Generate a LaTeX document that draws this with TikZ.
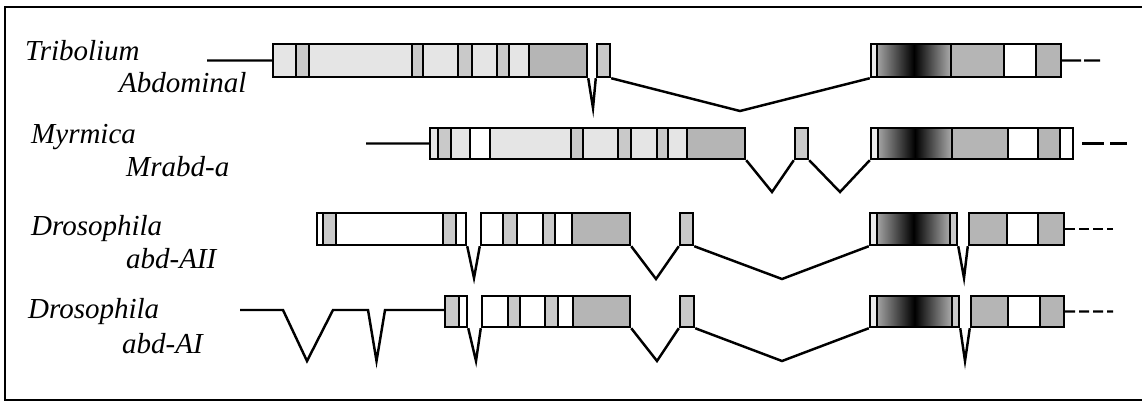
\documentclass[tikz,border=0pt]{standalone}
\usepackage{fontspec}
\setmainfont{Liberation Serif}
\usetikzlibrary{fit}
\colorlet{pl}{gray!15}
\colorlet{lt}{gray!20}
\colorlet{sp}{gray!42}
\colorlet{dk}{gray!58}
\colorlet{wh}{white}

\begin{document}
\begin{tikzpicture}[x=0.02cm, y=-0.02cm, line width=1.4pt,
  box/.style={draw, inner sep=0pt},
  lbl/.style={anchor=base west, inner sep=0pt, font=\itshape\fontsize{16.5}{19}\selectfont},
  band/.style={left color=gray!72, right color=gray!65, middle color=black},
  tail/.style={dash pattern=on 0.2cm off 0.08cm}]
\useasboundingbox (0,0) rectangle (1142,403);
\draw[line width=1.2pt] (1142,7) -- (5,7) -- (5,400) -- (1142,400);

% labels
\node[lbl] (tribo) at (24,60) {Tribolium};
\node[lbl] (abdom) at (118,92) {Abdominal};
\node[lbl] (myrm) at (30,143) {Myrmica};
\node[lbl] (mrabd) at (125,176) {Mrabd-a};
\node[lbl] (dros2) at (30,235) {Drosophila};
\node[lbl] (abd2) at (125,268) {abd-AII};
\node[lbl] (dros1) at (27,318) {Drosophila};
\node[lbl] (abd1) at (121,353) {abd-AI};

% Tribolium
\foreach \a/\b/\c in {273/296/lt, 296/309/sp, 309/412/lt, 412/423/sp, 423/458/lt, 458/472/sp,
  472/497/lt, 497/509/sp, 509/529/lt, 529/587/dk, 597/610/sp, 871/877/pl, 951/1004/dk,
  1004/1036/wh, 1036/1061/dk}
  \filldraw[fill=\c] (\a,44) rectangle (\b,77);
\shadedraw[band] (877,44) rectangle (951,77);
\node[box, fit={(273,44) (587,77)}] (t1) {};
\node[box, fit={(597,44) (610,77)}] (t2) {};
\node[box, fit={(871,44) (1061,77)}] (t3) {};
\coordinate (t0) at (207,60.5);
\coordinate (tv1) at (593,108);
\coordinate (tv2) at (740,111);
\coordinate (t4) at (1100,60.5);
\draw (t0) -- (t1.west);
\draw (t1.south east) -- (tv1) -- (t2.south west);
\draw (t2.south east) -- (tv2) -- (t3.south west);
\draw[dash pattern=on 0.38cm off 0.06cm] (t3.east) -- (t4);

% Myrmica
\foreach \a/\b/\c in {430/438/lt, 438/451/sp, 451/470/lt, 470/490/wh, 490/571/lt, 571/583/sp,
  583/618/lt, 618/631/sp, 631/657/lt, 657/668/sp, 668/687/lt, 687/745/dk, 795/808/sp,
  871/878/pl, 952/1008/dk, 1008/1038/wh, 1038/1060/dk, 1060/1073/wh}
  \filldraw[fill=\c] (\a,128) rectangle (\b,159);
\shadedraw[band] (878,128) rectangle (952,159);
\node[box, fit={(430,128) (745,159)}] (m1) {};
\node[box, fit={(795,128) (808,159)}] (m2) {};
\node[box, fit={(871,128) (1073,159)}] (m3) {};
\coordinate (m0) at (366,143.5);
\coordinate (mv1) at (772,192);
\coordinate (mv2) at (840,192);
\coordinate (m4) at (1082,143.5);
\coordinate (m5) at (1127,143.5);
\draw (m0) -- (m1.west);
\draw (m1.south east) -- (mv1) -- (m2.south west);
\draw (m2.south east) -- (mv2) -- (m3.south west);
\draw[dash pattern=on 0.44cm off 0.12cm] (m4) -- (m5);

% Drosophila abd-AII
\foreach \a/\b/\c in {317/323/wh, 323/336/sp, 336/443/wh, 443/456/sp, 456/466/wh,
  481/503/wh, 503/517/sp, 517/543/wh, 543/555/sp, 555/572/wh, 572/630/dk, 680/693/sp,
  870/877/pl, 950/957/sp, 969/1007/dk, 1007/1038/wh, 1038/1064/dk}
  \filldraw[fill=\c] (\a,213) rectangle (\b,245);
\shadedraw[band] (877,213) rectangle (950,245);
\node[box, fit={(317,213) (466,245)}] (a1) {};
\node[box, fit={(481,213) (630,245)}] (a2) {};
\node[box, fit={(680,213) (693,245)}] (a3) {};
\node[box, fit={(870,213) (957,245)}] (a4) {};
\node[box, fit={(969,213) (1064,245)}] (a5) {};
\coordinate (av1) at (474,278);
\coordinate (av2) at (656,279);
\coordinate (av3) at (782,279);
\coordinate (av4) at (964,278);
\coordinate (a6) at (1113,229);
\draw (a1.south east) -- (av1) -- (a2.south west);
\draw (a2.south east) -- (av2) -- (a3.south west);
\draw (a3.south east) -- (av3) -- (a4.south west);
\draw (a4.south east) -- (av4) -- (a5.south west);
\draw[tail] (a5.east) -- (a6);

% Drosophila abd-AI
\foreach \a/\b/\c in {445/459/sp, 459/467/wh, 482/508/wh, 508/520/sp, 520/545/wh,
  545/558/sp, 558/573/wh, 573/630/dk, 680/694/sp, 870/877/pl, 952/959/sp,
  971/1008/dk, 1008/1040/wh, 1040/1064/dk}
  \filldraw[fill=\c] (\a,296) rectangle (\b,327);
\shadedraw[band] (877,296) rectangle (952,327);
\node[box, fit={(445,296) (467,327)}] (b1) {};
\node[box, fit={(482,296) (630,327)}] (b2) {};
\node[box, fit={(680,296) (694,327)}] (b3) {};
\node[box, fit={(870,296) (959,327)}] (b4) {};
\node[box, fit={(971,296) (1064,327)}] (b5) {};
\coordinate (b0) at (240,310);
\coordinate (bu1) at (283,310);
\coordinate (bv1) at (307,361);
\coordinate (bu2) at (333,310);
\coordinate (bu3) at (368,310);
\coordinate (bv2) at (376.5,361);
\coordinate (bu4) at (385,310);
\coordinate (bu5) at (445,310);
\coordinate (bv3) at (476,361);
\coordinate (bv4) at (657,361);
\coordinate (bv5) at (782,361);
\coordinate (bv6) at (965,361);
\coordinate (b6) at (1113,311.5);
\draw (b0) -- (bu1) -- (bv1) -- (bu2) -- (bu3) -- (bv2) -- (bu4) -- (bu5);
\draw (b1.south east) -- (bv3) -- (b2.south west);
\draw (b2.south east) -- (bv4) -- (b3.south west);
\draw (b3.south east) -- (bv5) -- (b4.south west);
\draw (b4.south east) -- (bv6) -- (b5.south west);
\draw[tail] (b5.east) -- (b6);
\end{tikzpicture}
\end{document}
